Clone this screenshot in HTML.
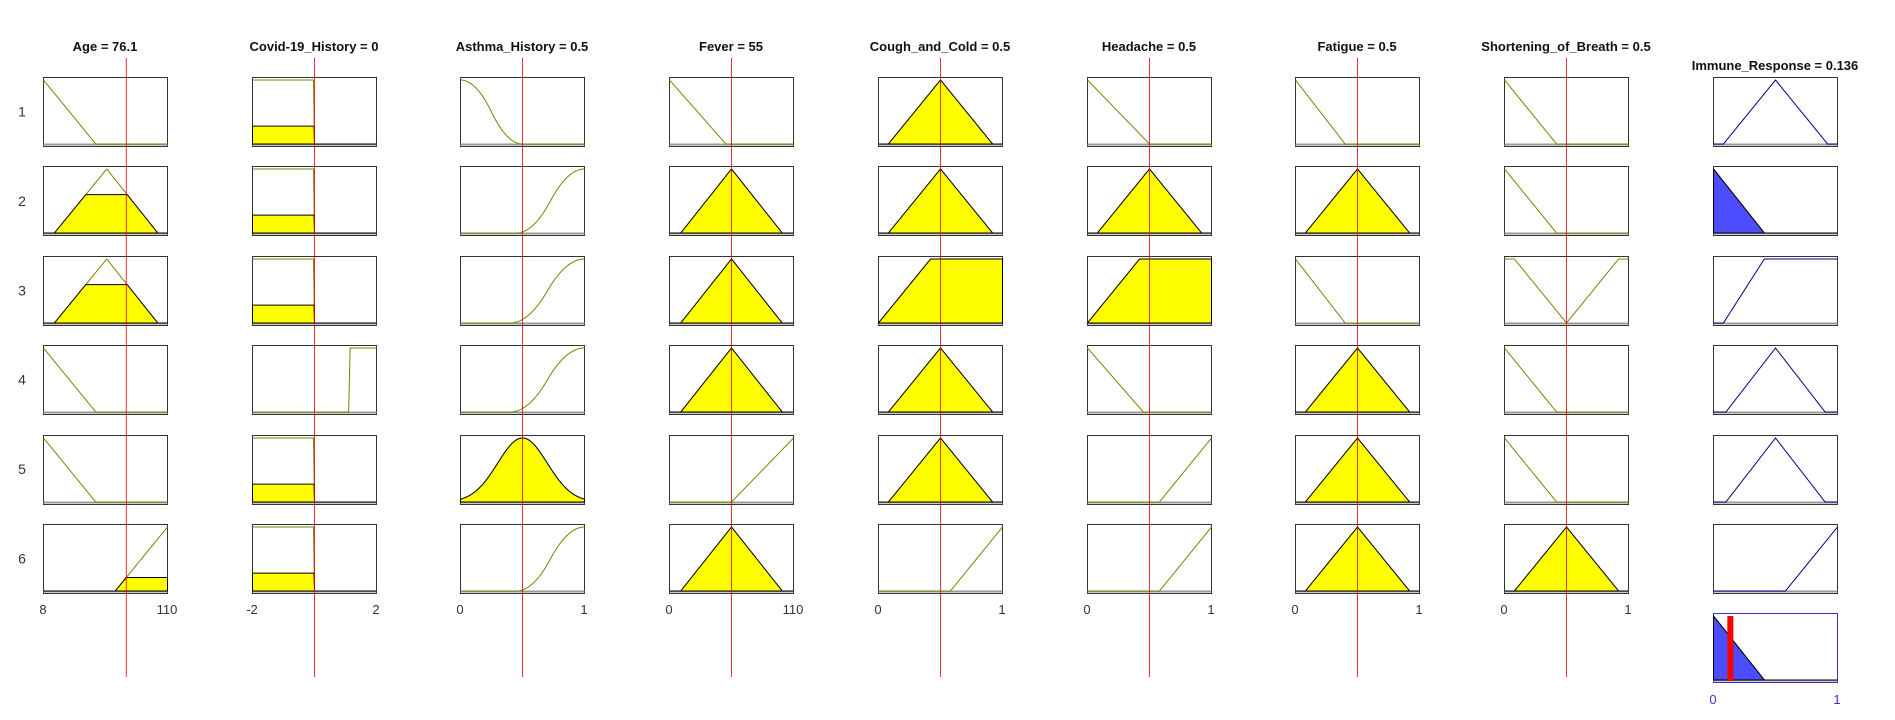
<!DOCTYPE html>
<html><head><meta charset="utf-8">
<style>
html,body{margin:0;padding:0;background:#fff;width:1895px;height:720px;overflow:hidden}
svg{display:block}
text{font-family:"Liberation Sans",Arial,sans-serif}
</style></head>
<body>
<svg id="chart" width="1895" height="720" viewBox="0 0 1895 720" xmlns="http://www.w3.org/2000/svg"></svg>
<script>
// ---- data ----
const inputNames = ["Age","Covid-19_History","Asthma_History","Fever","Cough_and_Cold","Headache","Fatigue","Shortening_of_Breath"];
const inputValues = [76.1, 0, 0.5, 55, 0.5, 0.5, 0.5, 0.5];
const inputValueLabels = ["76.1","0","0.5","55","0.5","0.5","0.5","0.5"];
const domainMin = [8,-2,0,0,0,0,0,0];
const domainMax = [110,2,1,110,1,1,1,1];
const tickLabelsMin = ["8","-2","0","0","0","0","0","0"];
const tickLabelsMax = ["110","2","1","110","1","1","1","1"];
const outputName = "Immune_Response";
const outputValue = 0.136;
const outputValueLabel = "0.136";
// MFs: [type, params...]  pl = piecewise linear [x,y] list
const mfAge = [["pl",[[8,1],[51,0],[110,0]]],["pl",[[8,0],[17,0],[60,1],[102,0],[110,0]]],["pl",[[8,0],[17,0],[60,1],[102,0],[110,0]]],["pl",[[8,1],[51,0],[110,0]]],["pl",[[8,1],[51,0],[110,0]]],["pl",[[8,0],[67,0],[110,1]]]];
const fireAge = [0,0.6,0.6,0,0,0.21];
const mfCovid = [["pl",[[-2,1],[-0.03,1],[0,0],[2,0]]],["pl",[[-2,1],[-0.03,1],[0,0],[2,0]]],["pl",[[-2,1],[-0.03,1],[0,0],[2,0]]],["pl",[[-2,0],[1.1,0],[1.15,1],[2,1]]],["pl",[[-2,1],[-0.03,1],[0,0],[2,0]]],["pl",[[-2,1],[-0.03,1],[0,0],[2,0]]]];
const fireCovid = [0.28,0.28,0.28,0,0.28,0.28];
const mfAsthma = [["zmf",0,0.5],["smf",0.45,1],["smf",0.4,1],["smf",0.4,1],["gauss",0.5,0.2],["smf",0.45,1]];
const fireAsthma = [0,0,0,0,1,0];
const mfFever = [["pl",[[0,1],[50,0],[110,0]]],["pl",[[0,0],[10,0],[55,1],[100,0],[110,0]]],["pl",[[0,0],[10,0],[55,1],[100,0],[110,0]]],["pl",[[0,0],[10,0],[55,1],[100,0],[110,0]]],["pl",[[0,0],[55,0],[110,1]]],["pl",[[0,0],[10,0],[55,1],[100,0],[110,0]]]];
const fireFever = [0,1,1,1,0,1];
const tri = ["pl",[[0,0],[0.08,0],[0.5,1],[0.92,0],[1,0]]];
const trap = ["pl",[[0,0],[0.42,1],[1,1]]];
const rampUp = ["pl",[[0,0],[0.58,0],[1,1]]];
const rampDn = ["pl",[[0,1],[0.42,0],[1,0]]];
const rampDn2 = ["pl",[[0,1],[0.5,0],[1,0]]];
const mfCough = [tri,tri,trap,tri,tri,rampUp];
const fireCough = [1,1,1,1,1,0];
const mfHead = [rampDn2,tri,trap,["pl",[[0,1],[0.45,0],[1,0]]],rampUp,rampUp];
const fireHead = [0,1,1,0,0,0];
const mfFatigue = [["pl",[[0,1],[0.4,0],[1,0]]],tri,["pl",[[0,1],[0.4,0],[1,0]]],tri,tri,tri];
const fireFatigue = [0,1,0,1,1,1];
const mfBreath = [rampDn,rampDn,["pl",[[0,1],[0.08,1],[0.5,0],[0.92,1],[1,1]]],rampDn,rampDn,tri];
const fireBreath = [0,0,0,0,0,1];
const mfOut = [tri,["pl",[[0,1],[0.41,0],[1,0]]],["pl",[[0,0],[0.08,0],[0.41,1],[1,1]]],["pl",[[0,0],[0.1,0],[0.5,1],[0.9,0],[1,0]]],["pl",[[0,0],[0.1,0],[0.5,1],[0.9,0],[1,0]]],rampUp];
const fireOut = [0,1,0,0,0,0];
const aggregate = [[0,1],[0.41,0],[1,0]];
const allMF = [mfAge,mfCovid,mfAsthma,mfFever,mfCough,mfHead,mfFatigue,mfBreath];
const allFire = [fireAge,fireCovid,fireAsthma,fireFever,fireCough,fireHead,fireFatigue,fireBreath];

// ---- layout ----
const NS="http://www.w3.org/2000/svg";
const svg=document.getElementById('chart');
const colX0=43, colStep=208.7, PW=124, PH=69, rowY0=77, rowStep=89.4;
function mk(tag,attrs,parent){const e=document.createElementNS(NS,tag);for(const k in attrs)e.setAttribute(k,attrs[k]);(parent||svg).appendChild(e);return e;}
function evalMF(mf,x){
  const t=mf[0];
  if(t==="pl"){const p=mf[1];if(x<=p[0][0])return p[0][1];for(let i=1;i<p.length;i++){if(x<=p[i][0]){const a=p[i-1],b=p[i];if(b[0]===a[0])return b[1];return a[1]+(b[1]-a[1])*(x-a[0])/(b[0]-a[0]);}}return p[p.length-1][1];}
  if(t==="smf"||t==="zmf"){const a=mf[1],b=mf[2];let v;if(x<=a)v=0;else if(x>=b)v=1;else if(x<=(a+b)/2)v=2*Math.pow((x-a)/(b-a),2);else v=1-2*Math.pow((x-b)/(b-a),2);return t==="smf"?v:1-v;}
  if(t==="gauss"){return Math.exp(-Math.pow(x-mf[1],2)/(2*mf[2]*mf[2]));}
  return 0;
}
function panel(px,py,name,mf,w,lo,hi,lineCol,fillCol,border){
  const g=mk('g',{});
  
  
  mk('rect',{x:px+0.5,y:py+0.5,width:PW,height:PH,fill:'#fff',stroke:border||'#333','stroke-width':1},g);
  const sx=v=>px+0.5+(v-lo)/(hi-lo)*PW;
  const sy=v=>py+3+(1-v)*(PH-5);
  const N=240;
  let line=[],fill=[];
  for(let i=0;i<=N;i++){const x=lo+(hi-lo)*i/N;const v=evalMF(mf,x);line.push(sx(x).toFixed(2)+','+sy(v).toFixed(2));fill.push([sx(x),sy(Math.min(v,w))]);}
  mk('line',{x1:px+0.5,x2:px+PW+0.5,y1:py+PH-1.5,y2:py+PH-1.5,stroke:'#999','stroke-width':2},g);
  if(w>0){
    let pts=fill.map(p=>p[0].toFixed(2)+','+p[1].toFixed(2));
    pts.push(sx(hi).toFixed(2)+','+sy(0).toFixed(2));pts.unshift(sx(lo).toFixed(2)+','+sy(0).toFixed(2));
    mk('polyline',{points:line.join(' '),fill:'none',stroke:lineCol,'stroke-width':1},g);
    mk('polygon',{points:pts.join(' '),fill:fillCol,stroke:'#000','stroke-width':1},g);
  } else {
    mk('polyline',{points:line.join(' '),fill:'none',stroke:lineCol,'stroke-width':1},g);
  }
  return {sx,sy};
}
// row labels
for(let r=0;r<6;r++){
  const t=mk('text',{x:22,y:rowY0+r*rowStep+PH/2+5,'font-size':14,fill:'#333','text-anchor':'middle'});
  
  
  t.textContent=String(r+1);
}
// input columns
for(let c=0;c<8;c++){
  const px=Math.round(colX0+c*colStep);
  const t=mk('text',{x:px+62,y:51,'font-size':13,'font-weight':'bold',fill:'#111','text-anchor':'middle'});
  
  
  t.textContent=inputNames[c]+' = '+inputValueLabels[c];
  for(let r=0;r<6;r++){
    panel(px,Math.round(rowY0+r*rowStep),'mf-panel-'+(c+1)+'-'+(r+1),allMF[c][r],allFire[c][r],domainMin[c],domainMax[c],'#808000','#ffff00');
  }
  const y6=Math.round(rowY0+5*rowStep)+PH+16;
  const a=mk('text',{x:px,y:y6+5,'font-size':13,fill:'#333','text-anchor':'middle'});
  
  
  a.textContent=tickLabelsMin[c];
  const b=mk('text',{x:px+PW,y:y6+5,'font-size':13,fill:'#333','text-anchor':'middle'});
  
  
  b.textContent=tickLabelsMax[c];
  const rx=px+0.5+(inputValues[c]-domainMin[c])/(domainMax[c]-domainMin[c])*PW;
  const rl=mk('line',{x1:rx,x2:rx,y1:58,y2:677,stroke:'#e00000','stroke-width':1,'stroke-opacity':0.8});
  
  
}
// output column
const ox=Math.round(colX0+8*colStep);
const ot=mk('text',{x:ox+62,y:70,'font-size':13,'font-weight':'bold',fill:'#111','text-anchor':'middle'});


ot.textContent=outputName+' = '+outputValueLabel;
for(let r=0;r<6;r++){
  panel(ox,Math.round(rowY0+r*rowStep),'output-mf-panel-'+(r+1),mfOut[r],fireOut[r],0,1,'#000080','#4d4dff');
}
const aggY=613;
const ag=panel(ox,aggY,'aggregate-output-panel',["pl",aggregate],1,0,1,'#000080','#4d4dff','#3333cc');
const bx=ag.sx(outputValue);
const bar=mk('rect',{x:bx-3,y:aggY+3,width:6,height:PH-4,fill:'#ff0000'});


const o0=mk('text',{x:ox,y:704,'font-size':13,fill:'#3333cc','text-anchor':'middle'});


o0.textContent='0';
const o1=mk('text',{x:ox+PW,y:704,'font-size':13,fill:'#3333cc','text-anchor':'middle'});


o1.textContent='1';
</script>
</body></html>
